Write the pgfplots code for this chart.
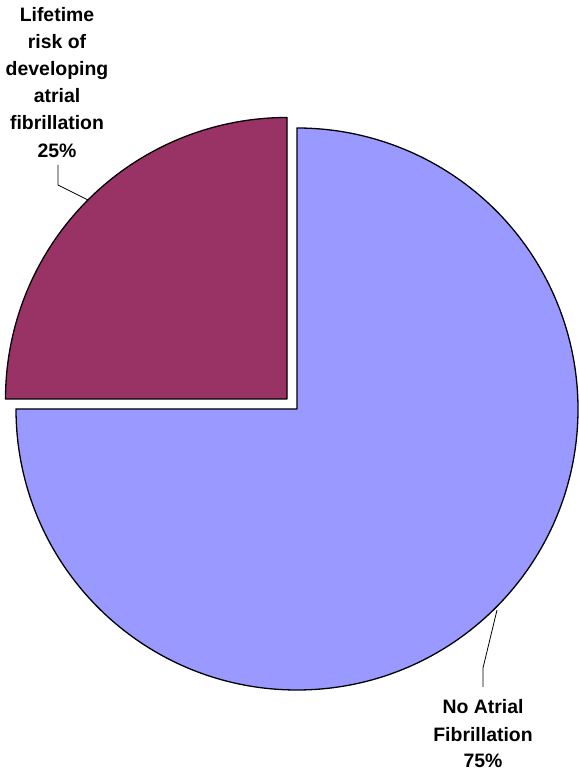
\documentclass[border=0pt]{standalone}
\usepackage{pgfplots}
\usepackage{pgfplotstable}
\pgfplotsset{compat=1.18}
\usepackage{fontspec}
\setmainfont{Liberation Sans}
\definecolor{pieBlue}{HTML}{9999FF}
\definecolor{pieMaroon}{HTML}{993366}

% share (%), centre x, centre y (px from bottom), radius
\pgfplotstableread{
share cx cy r
25 287 372 281.5
75 297 362 281
}\pietable

\begin{document}
\begin{tikzpicture}
\pgfplotstablegetelem{0}{share}\of\pietable \let\shA\pgfplotsretval
\pgfplotstablegetelem{1}{share}\of\pietable \let\shB\pgfplotsretval
\pgfmathsetmacro\aStart{90}
\pgfmathsetmacro\aMid{90+3.6*\shA}
\pgfmathsetmacro\aEnd{\aMid+3.6*\shB}
\begin{axis}[
  width=579bp, height=771bp, scale only axis,
  xmin=0, xmax=579, ymin=0, ymax=771,
  hide axis, clip=false, disabledatascaling,
]
% No Atrial Fibrillation (75%)
\filldraw[fill=pieBlue, draw=black, line width=1.3pt, line join=round]
  (axis cs:297,362) -- ++(\aMid:281) arc[start angle=\aMid, end angle=\aEnd, radius=281] -- cycle;
% Lifetime risk (25%), exploded
\filldraw[fill=pieMaroon, draw=black, line width=1.3pt, line join=round]
  (axis cs:287,372) -- ++(\aStart:281.5) arc[start angle=\aStart, end angle=\aMid, radius=281.5] -- cycle;
% leader lines
\draw[black, line width=0.8pt] (axis cs:58,606) -- (axis cs:58,586) -- (axis cs:88,571);
\draw[black, line width=0.8pt] (axis cs:497,161) -- (axis cs:483,103) -- (axis cs:483,84);
% labels
\begin{scope}[every node/.style={font=\fontsize{19.5}{27}\selectfont\bfseries, anchor=base, inner sep=0pt}]
\node at (axis cs:57,749) {Lifetime};
\node at (axis cs:57,722) {risk of};
\node at (axis cs:57,695) {developing};
\node at (axis cs:57,668) {atrial};
\node at (axis cs:57,641) {fibrillation};
\node at (axis cs:57,613) {25\%};
\node at (axis cs:483,57) {No Atrial};
\node at (axis cs:483,30) {Fibrillation};
\node at (axis cs:483,3.5) {75\%};
\end{scope}
\end{axis}
\pgfresetboundingbox
\useasboundingbox (current axis.south west) rectangle (current axis.north east);
\end{tikzpicture}
\end{document}
